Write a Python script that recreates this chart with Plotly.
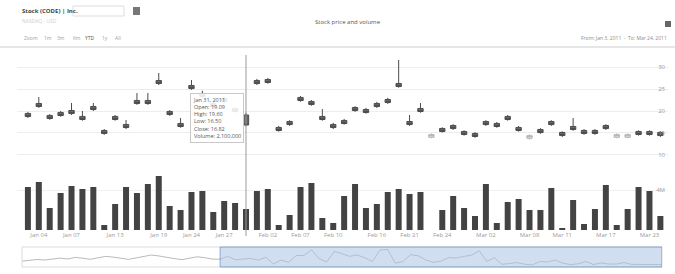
import plotly.graph_objects as go

# ---------------- data ----------------
opens = [19.44, 21.71, 18.99, 19.67, 20.12, 18.76, 21.03, 15.58, 18.76, 16.94,
         22.40, 22.40, 26.94, 19.90, 17.17, 25.80, 23.99, 21.71, 22.85, 20.58,
         19.09, 26.94, 27.17, 16.26, 17.62, 23.08, 22.17, 18.76, 16.94, 17.85,
         20.80, 20.35, 21.71, 22.62, 26.26, 17.62, 20.58, 14.02, 16.03, 16.71,
         15.35, 14.90, 17.62, 17.17, 18.76, 16.26, 13.79, 15.80, 17.62, 15.12,
         16.49, 15.58, 15.58, 16.71, 14.02, 14.02, 15.35, 15.35, 15.12]
closes = [18.74, 21.01, 18.29, 18.97, 19.42, 18.06, 20.33, 14.88, 18.06, 16.24,
          21.70, 21.70, 26.24, 19.20, 16.47, 25.10, 23.29, 21.01, 22.15, 19.88,
          16.82, 26.24, 26.47, 15.56, 16.92, 22.38, 21.47, 18.06, 16.24, 17.15,
          20.10, 19.65, 21.01, 21.92, 25.56, 16.92, 19.88, 14.62, 15.33, 16.01,
          14.65, 14.20, 16.92, 16.47, 18.06, 15.56, 14.39, 15.10, 16.92, 14.42,
          15.79, 14.88, 14.88, 16.01, 14.62, 14.62, 14.65, 14.65, 14.42]
highs = [19.80, 23.18, 19.30, 20.00, 21.82, 20.00, 21.82, 15.90, 19.10, 17.95,
         24.09, 24.09, 28.64, 20.20, 18.41, 27.05, 24.60, 22.10, 23.20, 20.90,
         19.60, 27.30, 27.50, 16.60, 17.90, 23.40, 22.50, 20.45, 17.30, 18.20,
         21.10, 20.70, 22.10, 23.00, 31.59, 19.09, 21.82, 14.90, 16.30, 17.00,
         15.60, 15.20, 17.90, 17.50, 19.10, 16.60, 14.70, 16.10, 17.90, 15.40,
         18.41, 15.90, 15.90, 17.00, 14.90, 14.90, 15.60, 15.60, 15.40]
lows = [18.40, 20.70, 18.00, 18.70, 19.10, 17.80, 20.00, 14.60, 17.80, 15.90,
        21.40, 21.40, 25.90, 18.90, 16.20, 24.80, 23.00, 20.70, 21.90, 19.60,
        16.50, 25.90, 26.20, 15.30, 16.60, 22.10, 21.20, 17.80, 15.90, 16.90,
        19.80, 19.40, 20.70, 21.60, 25.30, 16.60, 19.60, 13.80, 15.10, 15.70,
        14.40, 13.90, 16.60, 16.20, 17.80, 15.30, 13.50, 14.80, 16.60, 14.10,
        15.50, 14.60, 14.60, 15.70, 13.80, 13.80, 14.40, 14.40, 14.10]
volumes_m = [4.3, 4.8, 2.2, 3.7, 4.4, 4.1, 4.3, 0.5, 2.6, 4.3,
             3.7, 4.6, 5.4, 2.4, 2.0, 3.8, 3.9, 1.8, 2.9, 2.7,
             2.1, 3.9, 4.1, 0.5, 1.5, 4.3, 4.7, 1.2, 0.7, 3.4,
             4.6, 2.2, 2.6, 3.8, 4.1, 3.6, 3.8, 0.0, 2.0, 3.4,
             2.2, 1.4, 4.6, 0.7, 2.8, 3.1, 2.0, 2.0, 4.2, 0.2,
             3.0, 0.6, 2.1, 4.5, 0.5, 2.1, 4.3, 3.9, 1.4]
history_closes = [17.2, 17.8, 18.5, 18.1, 19.0, 19.6, 18.9, 20.2, 19.5, 18.7,
                  19.9, 21.0, 20.4, 19.3, 18.6, 19.8, 20.9, 22.1, 21.3, 20.0,
                  19.2, 18.4, 19.5, 20.7, 19.9, 18.8]

tick_index = [1, 4, 8, 12, 15, 18, 22, 25, 28, 32, 35, 38, 42, 46, 49, 53, 57]
tick_labels = ["Jan 04", "Jan 07", "Jan 13", "Jan 19", "Jan 24", "Jan 27", "Feb 02",
               "Feb 07", "Feb 10", "Feb 16", "Feb 21", "Feb 24", "Mar 02", "Mar 08",
               "Mar 11", "Mar 17", "Mar 23"]
price_ticks = [10, 15, 20, 25, 30]
hover_index = 20
hover_date = "Jan 31, 2011"
hover_volume = "2,100,000"

n = len(closes)
x_idx = list(range(n))
nav_x = list(range(-len(history_closes), 0)) + x_idx
nav_y = history_closes + closes

W, H = 675, 274
ML, MR, MT, MB = 17, 7, 50, 4
PW, PH = W - ML - MR, H - MT - MB


def px(x):
    return (x - ML) / PW


def py(y):
    return (H - MB - y) / PH


FONT = "Open Sans"
fig = go.Figure()
fig.add_trace(go.Candlestick(
    x=x_idx, open=opens, high=highs, low=lows, close=closes,
    xaxis="x", yaxis="y", whiskerwidth=0, hoverinfo="skip",
    increasing=dict(line=dict(color="#b5b5b5", width=1), fillcolor="#dedede"),
    decreasing=dict(line=dict(color="#4d4d4d", width=1), fillcolor="#666666"),
    showlegend=False))
fig.add_trace(go.Bar(x=x_idx, y=volumes_m, xaxis="x2", yaxis="y2",
                     marker=dict(color="#434343", line=dict(width=0)), width=0.55,
                     hoverinfo="skip", showlegend=False))
fig.add_trace(go.Scatter(x=nav_x, y=nav_y, xaxis="x3", yaxis="y3", mode="lines",
                         line=dict(color="#a8a8a8", width=0.8), hoverinfo="skip",
                         showlegend=False))

axis_font = dict(family=FONT, size=6, color="#9a9a9a")
fig.update_layout(
    width=W, height=H, margin=dict(l=ML, r=MR, t=MT, b=MB),
    paper_bgcolor="white", plot_bgcolor="white", font=dict(family=FONT),
    hovermode=False, dragmode=False,
    xaxis=dict(domain=[0, 1], range=[-1, 58.7], anchor="y", showticklabels=False,
               showgrid=False, zeroline=False, rangeslider=dict(visible=False)),
    yaxis=dict(domain=[py(160), py(55)], range=[8.86, 32.73], side="right",
               tickvals=price_ticks, ticklabelposition="inside", tickfont=axis_font,
               gridcolor="#ededed", zeroline=False, anchor="x"),
    xaxis2=dict(domain=[0, 1], range=[-1, 58.7], anchor="y2", tickvals=tick_index,
                ticktext=tick_labels, tickfont=axis_font, showgrid=False, zeroline=False,
                ticks="", ticklen=0),
    yaxis2=dict(domain=[py(230), py(172)], range=[0, 5.8], side="right",
                tickvals=[4], ticktext=["4M"], ticklabelposition="inside",
                tickfont=axis_font, gridcolor="#f1f1f1", zeroline=False, anchor="x2"),
    xaxis3=dict(domain=[px(22), px(662)], range=[-26, 58], anchor="y3",
                showticklabels=False, showgrid=False, zeroline=False),
    yaxis3=dict(domain=[py(267), py(247)], range=[12.5, 28.5], showticklabels=False,
                showgrid=False, zeroline=False),
)

shapes = [
    dict(type="line", xref="paper", yref="paper", x0=px(0), x1=px(675),
         y0=py(47), y1=py(47), line=dict(color="#e6e6e6", width=2)),
    dict(type="rect", xref="paper", yref="paper", x0=px(22), x1=px(662),
         y0=py(267), y1=py(247), line=dict(color="#dcdcdc", width=1)),
    dict(type="rect", xref="x3", yref="paper", x0=0, x1=n - 1,
         y0=py(267), y1=py(247), fillcolor="rgba(170,196,228,0.55)",
         line=dict(color="rgba(120,150,195,0.8)", width=1)),
    dict(type="line", xref="x", yref="paper", x0=hover_index, x1=hover_index,
         y0=py(236), y1=py(55), line=dict(color="#9a9a9a", width=1)),
    dict(type="rect", xref="paper", yref="paper", x0=px(73), x1=px(124),
         y0=py(16), y1=py(6), line=dict(color="#dddddd", width=1)),
    dict(type="rect", xref="paper", yref="paper", x0=px(133), x1=px(140),
         y0=py(15), y1=py(7), fillcolor="#777777", line=dict(width=0)),
    dict(type="rect", xref="paper", yref="paper", x0=px(665), x1=px(671),
         y0=py(27), y1=py(21), fillcolor="#666666", line=dict(width=0)),
]
fig.update_layout(shapes=shapes)

ann = []
ann.append(dict(x=px(20), y=py(11), xref="paper", yref="paper", xanchor="left",
                yanchor="middle", text="<b>Stock (CODE) | Inc.</b>", showarrow=False,
                font=dict(family=FONT, size=6, color="#444")))
ann.append(dict(x=px(20), y=py(21), xref="paper", yref="paper", xanchor="left",
                yanchor="middle", text="NASDAQ · USD", showarrow=False,
                font=dict(family=FONT, size=5, color="#cfcfcf")))
ann.append(dict(x=px(348), y=py(22), xref="paper", yref="paper", xanchor="center",
                yanchor="middle", text="Stock price and volume", showarrow=False,
                font=dict(family=FONT, size=6, color="#555")))
buttons = [("Zoom", 22), ("1m", 42), ("3m", 55), ("6m", 71), ("YTD", 83), ("1y", 100), ("All", 113)]
for label, bx in buttons:
    ann.append(dict(x=px(bx), y=py(38), xref="paper", yref="paper", xanchor="left",
                    yanchor="middle", text=label, showarrow=False,
                    font=dict(family=FONT, size=5,
                              color="#555" if label == "YTD" else "#a0a0a0")))
ann.append(dict(x=px(669), y=py(38), xref="paper", yref="paper", xanchor="right",
                yanchor="middle", text="From: Jan 3, 2011  -  To: Mar 24, 2011",
                showarrow=False, font=dict(family=FONT, size=5, color="#8a8a8a")))
ann.append(dict(x=hover_index, y=py(93), xref="x", yref="paper", xanchor="right",
                yanchor="top", xshift=-2, align="left", showarrow=False,
                text=(f"{hover_date}<br>Open: {opens[hover_index]:.2f}<br>"
                      f"High: {highs[hover_index]:.2f}<br>Low: {lows[hover_index]:.2f}<br>"
                      f"Close: {closes[hover_index]:.2f}<br>Volume: {hover_volume}"),
                font=dict(family=FONT, size=5.5, color="#555"),
                bgcolor="rgba(255,255,255,0.88)", bordercolor="#c8c8c8", borderwidth=1,
                borderpad=2))
fig.update_layout(annotations=ann)

fig.write_html("out.html", config={"displayModeBar": False, "staticPlot": True},
               post_script="document.body.style.margin='0';document.body.style.padding='0';")
